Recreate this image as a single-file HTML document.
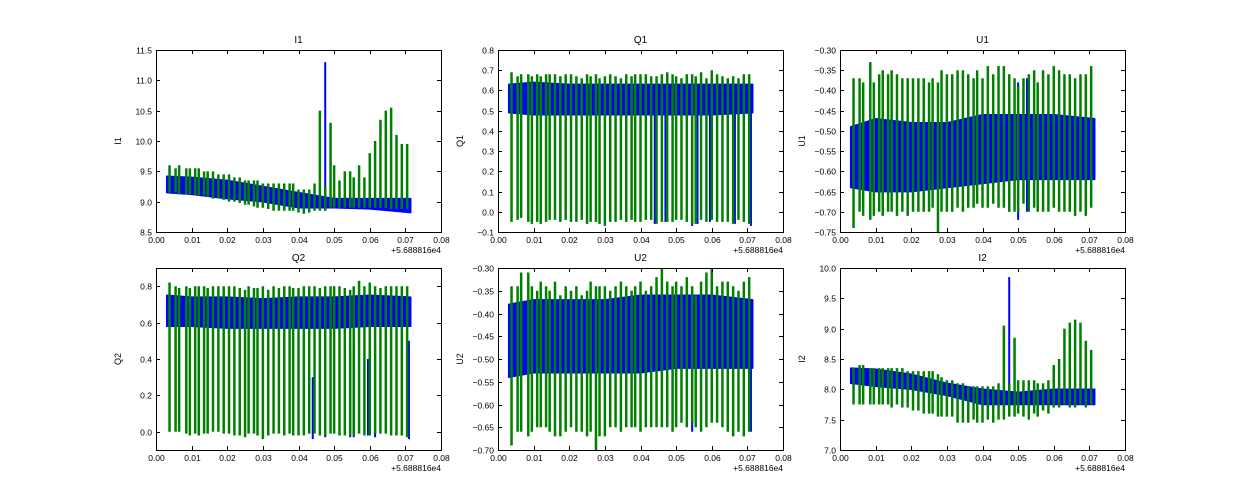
<!DOCTYPE html>
<html><head><meta charset="utf-8">
<style>
html,body{margin:0;padding:0;background:#fff;}
svg{display:block;font-family:"Liberation Sans","DejaVu Sans",sans-serif;}
</style></head>
<body>
<svg id="fig" width="1250" height="500" viewBox="0 0 1250 500" xmlns="http://www.w3.org/2000/svg"></svg>
<script>
// shared x data (offset from 5.688816e4)
const spikeX = [0.0038,0.0055,0.0065,0.0085,0.0095,0.011,0.012,0.0135,0.0145,0.016,0.0175,0.019,0.0205,0.022,0.0235,0.025,0.026,0.0275,0.0285,0.030,0.0315,0.033,0.0345,0.036,0.0375,0.0385,0.040,0.0415,0.043,0.0445,0.046,0.0475,0.049,0.050,0.0515,0.053,0.0545,0.0555,0.057,0.0585,0.060,0.0615,0.063,0.0645,0.066,0.0675,0.069,0.0705];
const bandX = [0.003,0.01,0.02,0.03,0.04,0.05,0.06,0.0715];
const xTicks = [0,0.01,0.02,0.03,0.04,0.05,0.06,0.07,0.08];

// I1
const i1BandLo = [9.15,9.12,9.05,9.0,8.9,8.9,8.88,8.82];
const i1BandHi = [9.42,9.4,9.35,9.25,9.15,9.05,9.05,9.05];
const i1SpikeHi = [9.6,9.55,9.6,9.55,9.55,9.55,9.55,9.5,9.5,9.5,9.45,9.45,9.45,9.4,9.4,9.35,9.35,9.35,9.35,9.3,9.3,9.3,9.3,9.3,9.3,9.3,9.2,9.2,9.2,9.3,10.5,9.25,10.3,9.6,9.35,9.5,9.5,9.4,9.6,9.4,9.8,10.0,10.35,10.5,10.55,10.1,9.95,9.95];
const i1SpikeLo = [9.15,9.15,9.12,9.12,9.12,9.1,9.1,9.1,9.08,9.05,9.05,9.03,9.0,9.0,8.98,8.95,8.95,8.92,8.9,8.9,8.88,8.85,8.85,8.85,8.85,8.85,8.82,8.8,8.82,8.85,8.85,8.85,8.9,8.9,8.9,8.9,8.9,8.9,8.9,8.9,8.9,8.9,8.9,8.9,8.88,8.88,8.88,8.88];
const i1BlueX = [0.0475]; const i1BlueHi = [11.3]; const i1BlueLo = [8.85];
// Q1
const q1BandLo = [0.49,0.48,0.48,0.48,0.48,0.48,0.48,0.49];
const q1BandHi = [0.63,0.64,0.63,0.63,0.63,0.63,0.63,0.63];
const q1SpikeHi = [0.69,0.67,0.68,0.68,0.67,0.68,0.67,0.68,0.68,0.68,0.67,0.68,0.68,0.67,0.66,0.68,0.67,0.68,0.66,0.67,0.68,0.67,0.66,0.68,0.67,0.68,0.68,0.68,0.67,0.67,0.68,0.69,0.68,0.67,0.66,0.68,0.68,0.67,0.69,0.66,0.70,0.68,0.67,0.66,0.67,0.66,0.68,0.68];
const q1SpikeLo = [-0.05,-0.04,-0.03,-0.05,-0.06,-0.05,-0.06,-0.05,-0.04,-0.04,-0.05,-0.04,-0.05,-0.05,-0.04,-0.06,-0.05,-0.05,-0.06,-0.07,-0.05,-0.05,-0.04,-0.05,-0.04,-0.05,-0.05,-0.04,-0.04,-0.06,-0.05,-0.05,-0.05,-0.04,-0.04,-0.05,-0.06,-0.06,-0.04,-0.05,-0.04,-0.05,-0.05,-0.05,-0.06,-0.04,-0.05,-0.06];
const q1BlueX = [0.044,0.047,0.0545,0.056,0.0595,0.0665,0.071]; const q1BlueHi = [0.5,0.5,0.5,0.5,0.5,0.5,0.5]; const q1BlueLo = [-0.06,-0.05,-0.07,-0.06,-0.05,-0.06,-0.07];
// U1
const u1BandLo = [-0.64,-0.65,-0.65,-0.64,-0.63,-0.62,-0.62,-0.62];
const u1BandHi = [-0.49,-0.47,-0.48,-0.48,-0.46,-0.46,-0.46,-0.47];
const u1SpikeHi = [-0.37,-0.37,-0.38,-0.33,-0.38,-0.36,-0.35,-0.36,-0.35,-0.36,-0.37,-0.37,-0.37,-0.37,-0.37,-0.38,-0.37,-0.38,-0.35,-0.36,-0.36,-0.35,-0.35,-0.36,-0.37,-0.35,-0.37,-0.34,-0.36,-0.34,-0.34,-0.36,-0.37,-0.39,-0.37,-0.36,-0.35,-0.38,-0.35,-0.36,-0.34,-0.35,-0.36,-0.36,-0.37,-0.36,-0.36,-0.34];
const u1SpikeLo = [-0.74,-0.70,-0.71,-0.72,-0.71,-0.70,-0.71,-0.70,-0.70,-0.71,-0.70,-0.71,-0.70,-0.70,-0.70,-0.70,-0.69,-0.75,-0.70,-0.70,-0.70,-0.69,-0.70,-0.69,-0.69,-0.68,-0.69,-0.69,-0.68,-0.69,-0.69,-0.70,-0.70,-0.70,-0.68,-0.70,-0.69,-0.70,-0.70,-0.70,-0.69,-0.70,-0.70,-0.70,-0.71,-0.70,-0.71,-0.69];
const u1BlueX = [0.0475,0.050,0.0525]; const u1BlueHi = [-0.38,-0.38,-0.37]; const u1BlueLo = [-0.70,-0.72,-0.70];
// Q2
const q2BandLo = [0.58,0.58,0.57,0.57,0.57,0.57,0.58,0.58];
const q2BandHi = [0.75,0.74,0.74,0.73,0.74,0.74,0.75,0.74];
const q2SpikeHi = [0.82,0.80,0.79,0.80,0.79,0.80,0.80,0.80,0.79,0.80,0.80,0.80,0.80,0.80,0.79,0.78,0.80,0.79,0.79,0.80,0.78,0.80,0.79,0.80,0.80,0.79,0.79,0.80,0.80,0.80,0.79,0.80,0.80,0.80,0.80,0.79,0.78,0.80,0.83,0.80,0.82,0.80,0.79,0.80,0.80,0.80,0.80,0.80];
const q2SpikeLo = [0.0,0.0,0.0,-0.01,-0.02,-0.01,-0.02,-0.01,-0.01,0.0,0.0,-0.01,-0.01,-0.02,-0.02,-0.03,-0.01,-0.01,-0.02,-0.04,-0.02,-0.01,-0.01,-0.02,-0.01,-0.02,-0.02,-0.02,-0.01,-0.01,-0.02,-0.02,-0.01,-0.01,-0.02,-0.02,-0.02,-0.02,-0.01,-0.02,-0.02,-0.01,-0.01,-0.01,-0.02,-0.02,-0.02,-0.03];
const q2BlueX = [0.044,0.0475,0.0545,0.0555,0.0595,0.0615,0.071]; const q2BlueHi = [0.3,0.5,0.45,0.5,0.4,0.5,0.5]; const q2BlueLo = [-0.04,-0.03,-0.03,-0.03,-0.02,-0.03,-0.04];
// U2
const u2BandLo = [-0.54,-0.53,-0.53,-0.53,-0.53,-0.52,-0.52,-0.52];
const u2BandHi = [-0.38,-0.37,-0.37,-0.37,-0.36,-0.36,-0.36,-0.37];
const u2SpikeHi = [-0.34,-0.34,-0.31,-0.31,-0.34,-0.35,-0.33,-0.34,-0.35,-0.33,-0.36,-0.34,-0.35,-0.34,-0.36,-0.35,-0.33,-0.34,-0.34,-0.34,-0.35,-0.34,-0.33,-0.34,-0.35,-0.34,-0.33,-0.35,-0.34,-0.32,-0.30,-0.33,-0.34,-0.33,-0.34,-0.32,-0.34,-0.36,-0.33,-0.31,-0.30,-0.34,-0.33,-0.33,-0.34,-0.35,-0.33,-0.32];
const u2SpikeLo = [-0.69,-0.66,-0.66,-0.67,-0.66,-0.65,-0.65,-0.65,-0.66,-0.67,-0.67,-0.66,-0.65,-0.66,-0.66,-0.67,-0.66,-0.70,-0.67,-0.67,-0.65,-0.65,-0.66,-0.65,-0.65,-0.65,-0.66,-0.65,-0.65,-0.65,-0.65,-0.65,-0.66,-0.65,-0.64,-0.65,-0.64,-0.65,-0.66,-0.65,-0.64,-0.64,-0.65,-0.66,-0.67,-0.66,-0.67,-0.66];
const u2BlueX = [0.0545,0.066,0.071]; const u2BlueHi = [-0.40,-0.40,-0.40]; const u2BlueLo = [-0.66,-0.66,-0.66];
// I2
const i2BandLo = [8.1,8.05,8.0,7.9,7.75,7.75,7.75,7.75];
const i2BandHi = [8.35,8.33,8.25,8.1,8.0,7.95,8.0,8.0];
const i2SpikeHi = [8.35,8.4,8.4,8.35,8.35,8.35,8.35,8.35,8.35,8.35,8.35,8.3,8.3,8.3,8.3,8.3,8.3,8.25,8.2,8.15,8.15,8.1,8.1,8.05,8.05,8.05,8.05,8.05,8.05,8.1,9.05,8.1,8.85,8.15,8.15,8.15,8.15,8.1,8.1,8.15,8.4,8.5,9.0,9.1,9.15,9.1,8.8,8.65];
const i2SpikeLo = [7.75,7.75,7.75,7.75,7.75,7.75,7.75,7.75,7.7,7.75,7.7,7.7,7.65,7.65,7.6,7.6,7.6,7.55,7.55,7.55,7.55,7.45,7.45,7.45,7.5,7.45,7.45,7.5,7.45,7.5,7.5,7.55,7.55,7.6,7.55,7.5,7.6,7.55,7.65,7.6,7.7,7.7,7.75,7.7,7.7,7.75,7.7,7.75];
const i2BlueX = [0.0475]; const i2BlueHi = [9.85]; const i2BlueLo = [7.6];

const yTicksI1 = [8.5,9.0,9.5,10.0,10.5,11.0,11.5];
const yTicksQ1 = [-0.1,0,0.1,0.2,0.3,0.4,0.5,0.6,0.7,0.8];
const yTicksU1 = [-0.75,-0.70,-0.65,-0.60,-0.55,-0.50,-0.45,-0.40,-0.35,-0.30];
const yTicksQ2 = [0.0,0.2,0.4,0.6,0.8];
const yTicksU2 = [-0.70,-0.65,-0.60,-0.55,-0.50,-0.45,-0.40,-0.35,-0.30];
const yTicksI2 = [7.0,7.5,8.0,8.5,9.0,9.5,10.0];

const panels = [
 {name:'I1',left:156,top:50,ymin:8.5,ymax:11.5,ticks:yTicksI1,dec:1,bLo:i1BandLo,bHi:i1BandHi,sHi:i1SpikeHi,sLo:i1SpikeLo,bx:i1BlueX,bh:i1BlueHi,bl:i1BlueLo},
 {name:'Q1',left:498,top:50,ymin:-0.1,ymax:0.8,ticks:yTicksQ1,dec:1,bLo:q1BandLo,bHi:q1BandHi,sHi:q1SpikeHi,sLo:q1SpikeLo,bx:q1BlueX,bh:q1BlueHi,bl:q1BlueLo},
 {name:'U1',left:840,top:50,ymin:-0.75,ymax:-0.30,ticks:yTicksU1,dec:2,bLo:u1BandLo,bHi:u1BandHi,sHi:u1SpikeHi,sLo:u1SpikeLo,bx:u1BlueX,bh:u1BlueHi,bl:u1BlueLo},
 {name:'Q2',left:156,top:268,ymin:-0.1,ymax:0.9,ticks:yTicksQ2,dec:1,bLo:q2BandLo,bHi:q2BandHi,sHi:q2SpikeHi,sLo:q2SpikeLo,bx:q2BlueX,bh:q2BlueHi,bl:q2BlueLo},
 {name:'U2',left:498,top:268,ymin:-0.70,ymax:-0.30,ticks:yTicksU2,dec:2,bLo:u2BandLo,bHi:u2BandHi,sHi:u2SpikeHi,sLo:u2SpikeLo,bx:u2BlueX,bh:u2BlueHi,bl:u2BlueLo},
 {name:'I2',left:840,top:268,ymin:7.0,ymax:10.0,ticks:yTicksI2,dec:1,bLo:i2BandLo,bHi:i2BandHi,sHi:i2SpikeHi,sLo:i2SpikeLo,bx:i2BlueX,bh:i2BlueHi,bl:i2BlueLo}
];
const W = 285, H = 182, NS = 'http://www.w3.org/2000/svg';
const svg = document.getElementById('fig');
function mk(tag, attrs, parent, text){
  const e = document.createElementNS(NS, tag);
  for (const k in attrs) e.setAttribute(k, attrs[k]);
  if (text !== undefined) e.textContent = text;
  (parent||svg).appendChild(e); return e;
}
function fmt(v, d){ const s = Math.abs(v).toFixed(d); return (v < -1e-9 ? '\u2212' : '') + s; }

panels.forEach(p => {
  const key = p.name.toLowerCase();
  const sx = v => p.left + v / 0.08 * W;
  const sy = v => p.top + (p.ymax - v) / (p.ymax - p.ymin) * H;
  const g = mk('g', {}, svg);
  
  
  const clipId = 'clip-' + key;
  const cp = mk('clipPath', {id: clipId}, g);
  mk('rect', {x:p.left, y:p.top, width:W, height:H}, cp);
  const plot = mk('g', {'clip-path':'url(#' + clipId + ')'}, g);
  
  
  let pts = [];
  bandX.forEach((x,i) => pts.push(sx(x).toFixed(1) + ',' + sy(p.bHi[i]).toFixed(1)));
  for (let i = bandX.length - 1; i >= 0; i--) pts.push(sx(bandX[i]).toFixed(1) + ',' + sy(p.bLo[i]).toFixed(1));
  const band = mk('polygon', {points: pts.join(' '), fill:'#0000ff', stroke:'#0000ff', 'stroke-width':1.5, 'stroke-linejoin':'round'}, plot);
  
  
  p.bx.forEach((x,i) => {
    const l = mk('line', {x1:sx(x), x2:sx(x), y1:sy(p.bh[i]), y2:sy(p.bl[i]), stroke:'#0000ff', 'stroke-width':2}, plot);
    
    
  });
  spikeX.forEach((x,i) => {
    const l = mk('line', {x1:sx(x), x2:sx(x), y1:sy(p.sHi[i]), y2:sy(p.sLo[i]), stroke:'#008000', 'stroke-width':2.5}, plot);
    
    
  });
  const fr = mk('rect', {x:p.left+0.5, y:p.top+0.5, width:W, height:H, fill:'none', stroke:'#000', 'stroke-width':1}, g);
  
  
  xTicks.forEach(t => {
    const x = Math.round(sx(t)) + 0.5;
    mk('line', {x1:x, x2:x, y1:p.top+H, y2:p.top+H-4, stroke:'#000'}, g);
    mk('line', {x1:x, x2:x, y1:p.top, y2:p.top+4, stroke:'#000'}, g);
    const tl = mk('text', {x:x, y:p.top+H+11, 'font-size':8.5, 'text-anchor':'middle', fill:'#000'}, g, t.toFixed(2));
    
    
  });
  p.ticks.forEach(t => {
    const y = Math.round(sy(t)) + 0.5;
    mk('line', {x1:p.left, x2:p.left+4, y1:y, y2:y, stroke:'#000'}, g);
    mk('line', {x1:p.left+W, x2:p.left+W-4, y1:y, y2:y, stroke:'#000'}, g);
    const tl = mk('text', {x:p.left-4, y:y+3, 'font-size':8.5, 'text-anchor':'end', fill:'#000'}, g, fmt(t, p.dec));
    
    
  });
  const off = mk('text', {x:p.left+W, y:p.top+H+21, 'font-size':8.5, 'text-anchor':'end', fill:'#000'}, g, '+5.688816e4');
  
  
  const ti = mk('text', {x:p.left+W/2, y:p.top-7, 'font-size':10, 'text-anchor':'middle', fill:'#000'}, g, p.name);
  
  
  const yl = mk('text', {x:0, y:0, 'font-size':9, 'text-anchor':'middle', fill:'#000', transform:'translate(' + (p.left-35) + ',' + (p.top+H/2) + ') rotate(-90)'}, g, p.name);
  
  
});
</script>
</body></html>
